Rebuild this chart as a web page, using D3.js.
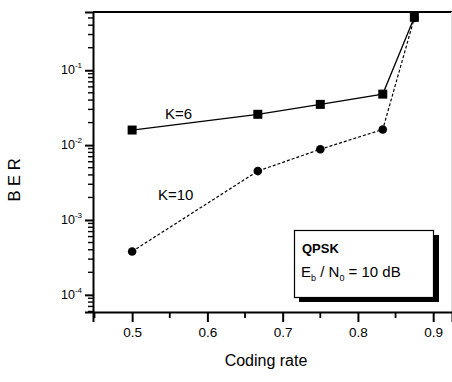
<!DOCTYPE html>
<html>
<head>
<meta charset="utf-8">
<script src="https://cdn.jsdelivr.net/npm/d3@7"></script>
<style>
body { margin: 0; background: #fff; }
svg text { font-family: "Liberation Sans", Arial, sans-serif; fill: #000; }
</style>
</head>
<body>
<div id="chart"></div>
<script>
// data
var rates = [0.5, 0.667, 0.75, 0.833, 0.875];
var berK6 = [0.0159, 0.0258, 0.035, 0.048, 0.51];
var berK10 = [0.00038, 0.0045, 0.0088, 0.0162, 0.50];
var xTicks = [0.5, 0.6, 0.7, 0.8, 0.9];
var yTicks = [1e-4, 1e-3, 1e-2, 1e-1];

var W = 452, H = 382;
var svg = d3.select("#chart").append("svg")
  .attr("width", W).attr("height", H);

var x = d3.scaleLinear().domain([0.448, 0.925]).range([93, 452]);
var y = d3.scaleLog().domain([5.9e-5, 0.6]).range([312, 12]);

// frame top + faint right
svg.append("line").attr("x1", 93).attr("x2", 452).attr("y1", 12).attr("y2", 12)
  .attr("stroke", "#000").attr("stroke-width", 1.8);
svg.append("line").attr("x1", 451.5).attr("x2", 451.5).attr("y1", 12).attr("y2", 312)
  .attr("stroke", "#ddd").attr("stroke-width", 1);

// x axis
var xMinor = d3.range(0.45, 0.93, 0.05).filter(function(v){ return Math.abs(v*10 - Math.round(v*10)) > 0.01; });
var gx = svg.append("g").attr("transform", "translate(0,312)");
gx.call(d3.axisBottom(x).tickValues(xTicks).tickSize(10).tickPadding(5)
  .tickFormat(d3.format(".1f")));
gx.selectAll(".tick text").attr("font-size", 13.5).attr("font-family", "Liberation Sans, Arial, sans-serif");
gx.select(".domain").attr("stroke-width", 2);
gx.selectAll(".tick line").attr("stroke-width", 2);
gx.selectAll(".minor").data(xMinor).enter().append("line")
  .attr("x1", function(d){ return x(d); }).attr("x2", function(d){ return x(d); })
  .attr("y1", 0).attr("y2", 6).attr("stroke", "#000").attr("stroke-width", 1.8);

// y axis
var yMinor = [];
[1e-5, 1e-4, 1e-3, 1e-2, 1e-1].forEach(function(dec){
  for (var k = 2; k <= 9; k++) {
    var v = dec * k;
    if (v >= 5.9e-5 && v <= 0.6) yMinor.push(v);
  }
});
var gy = svg.append("g").attr("transform", "translate(93,0)");
gy.call(d3.axisLeft(y).tickValues(yTicks).tickSize(8).tickFormat(""));
gy.select(".domain").attr("stroke-width", 2);
gy.selectAll(".tick line").attr("stroke-width", 2);
gy.selectAll(".minor").data(yMinor).enter().append("line")
  .attr("x1", -5).attr("x2", 0)
  .attr("y1", function(d){ return y(d); }).attr("y2", function(d){ return y(d); })
  .attr("stroke", "#000").attr("stroke-width", 1.4);

var ylab = gy.selectAll(".ylab").data(yTicks).enter().append("text")
  .attr("x", -11).attr("y", function(d){ return y(d) + 4; })
  .attr("text-anchor", "end").attr("font-size", 12.5);
ylab.append("tspan").text("10");
ylab.append("tspan").attr("dy", -6).attr("font-size", 8)
  .text(function(d){ return Math.round(Math.log10(d)); });

// axis titles
svg.append("text").attr("x", 266).attr("y", 366).attr("text-anchor", "middle")
  .attr("font-size", 16).text("Coding rate");
svg.append("text").attr("transform", "translate(20,180) rotate(-90)")
  .attr("text-anchor", "middle").attr("font-size", 16.5).text("B E R");

// series
var k6 = rates.map(function(r, i){ return {x: r, y: berK6[i]}; });
var k10 = rates.map(function(r, i){ return {x: r, y: berK10[i]}; });
var line = d3.line().x(function(d){ return x(d.x); }).y(function(d){ return y(d.y); });

svg.append("path").datum(k10).attr("d", line)
  .attr("fill", "none").attr("stroke", "#000").attr("stroke-width", 1.2)
  .attr("stroke-dasharray", "3,2");
svg.append("path").datum(k6).attr("d", line)
  .attr("fill", "none").attr("stroke", "#000").attr("stroke-width", 1.3);

svg.selectAll(".c10").data(k10).enter().append("circle")
  .attr("cx", function(d){ return x(d.x); }).attr("cy", function(d){ return y(d.y); })
  .attr("r", 4.3).attr("fill", "#000");
svg.selectAll(".s6").data(k6).enter().append("rect")
  .attr("x", function(d){ return x(d.x) - 4.5; }).attr("y", function(d){ return y(d.y) - 4.5; })
  .attr("width", 9).attr("height", 9).attr("fill", "#000");

// series labels
svg.append("text").attr("x", 165).attr("y", 119).attr("font-size", 15).text("K=6");
svg.append("text").attr("x", 158).attr("y", 200).attr("font-size", 15).text("K=10");

// legend box with shadow
svg.append("rect").attr("x", 299).attr("y", 235).attr("width", 140).attr("height", 67).attr("fill", "#000");
svg.append("rect").attr("x", 294.5).attr("y", 230.5).attr("width", 139).attr("height", 67)
  .attr("fill", "#fff").attr("stroke", "#000").attr("stroke-width", 1.2);
svg.append("text").attr("x", 302).attr("y", 253).attr("font-size", 13).attr("font-weight", "bold").text("QPSK");
var eb = svg.append("text").attr("x", 301).attr("y", 277).attr("font-size", 15);
eb.append("tspan").text("E");
eb.append("tspan").attr("dy", 4).attr("font-size", 9).text("b");
eb.append("tspan").attr("dy", -4).text(" / N");
eb.append("tspan").attr("dy", 4).attr("font-size", 9).text("0");
eb.append("tspan").attr("dy", -4).text(" = 10 dB");
</script>
</body>
</html>
